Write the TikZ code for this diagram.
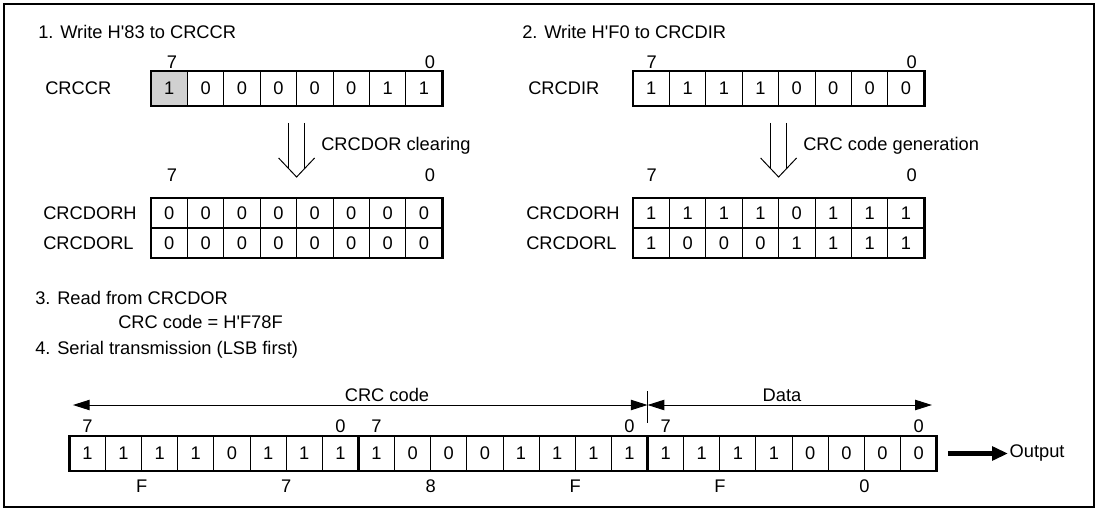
\documentclass[tikz,border=0pt]{standalone}
\usepackage{fontspec}
\setmainfont{Liberation Sans}
\usetikzlibrary{arrows.meta, positioning, calc, backgrounds}

\begin{document}
\begin{tikzpicture}[
    font=\fontsize{13}{15.6}\selectfont,
    bitcell/.style={draw, line width=0.7pt, minimum width=0.91cm, minimum height=0.875cm, inner sep=0pt, outer sep=0pt},
    rowcell/.style={bitcell, minimum height=0.75cm},
    sercell/.style={bitcell, minimum width=0.9035cm},
    regframe/.style={line width=1.9pt},
    hollow/.style={line width=0.7pt},
    dimarrow/.style={line width=0.7pt, {Triangle[length=0.42cm,width=0.26cm]}-{Triangle[length=0.42cm,width=0.26cm]}},
    outarrow/.style={line width=3pt, -{Triangle[length=0.4cm,width=0.34cm]}},
    lbl/.style={anchor=west, inner sep=0pt}
]
\useasboundingbox (0,0) rectangle (27.5,12.775);
% outer frame
\draw[line width=2pt] (0.1,0.1) rectangle (27.35,12.675);

% 1. write CRCCR
\node[lbl] (title1) at (0.95,11.975) {1. Write H\textquotesingle 83 to CRCCR};
\node[lbl] (ccrname) at (1.125,10.5625) {CRCCR};
\foreach \b [count=\i] in {1,0,0,0,0,0,1,1}
    \node[bitcell] (ccr\i) at ({3.775+(\i-0.5)*0.91},10.5625) {\b};
\begin{scope}[on background layer]
    \fill[black!18] (ccr1.south west) rectangle (ccr1.north east);
\end{scope}
\draw[regframe] (ccr1.south west) rectangle (ccr8.north east);
\node (ccrmsb) at (4.3,11.225) {7};
\node (ccrlsb) at (10.75,11.225) {0};

% CRCDOR cleared
\node[lbl] (dohname) at (1.075,7.45) {CRCDORH};
\node[lbl] (dolname) at (1.075,6.70) {CRCDORL};
\foreach \i in {1,...,8} {
    \node[rowcell] (doh\i) at ({3.775+(\i-0.5)*0.91},7.45) {0};
    \node[rowcell] (dol\i) at ({3.775+(\i-0.5)*0.91},6.70) {0};
}
\draw[regframe] (doh1.south west) rectangle (doh8.north east);
\draw[regframe] (dol1.south west) rectangle (dol8.north east);
\node (dohmsb) at (4.3,8.4) {7};
\node (dohlsb) at (10.75,8.4) {0};

% clearing arrow
\coordinate (clrtop) at ($(ccr4.south east)+(0,-0.42)$);
\coordinate (clrtip) at ($(doh4.north east)+(0,0.525)$);
\draw[hollow] ($(clrtop)+(-0.2,0)$) -- ($(clrtip)+(-0.2,0.211)$);
\draw[hollow] ($(clrtop)+(0.2,0)$) -- ($(clrtip)+(0.2,0.211)$);
\draw[hollow] ($(clrtip)+(-0.45,0.475)$) -- (clrtip) -- ($(clrtip)+(0.45,0.475)$);
\node[lbl] (clrtext) at (8.025,9.125) {CRCDOR clearing};

% 2. write CRCDIR
\node[lbl] (title2) at (13.05,11.975) {2. Write H\textquotesingle F0 to CRCDIR};
\node[lbl] (dirname) at (13.2,10.5625) {CRCDIR};
\foreach \b [count=\i] in {1,1,1,1,0,0,0,0}
    \node[bitcell] (dir\i) at ({15.825+(\i-0.5)*0.91},10.5625) {\b};
\draw[regframe] (dir1.south west) rectangle (dir8.north east);
\node (dirmsb) at (16.29,11.225) {7};
\node (dirlsb) at (22.79,11.225) {0};

% CRCDOR result
\node[lbl] (rdohname) at (13.15,7.45) {CRCDORH};
\node[lbl] (rdolname) at (13.15,6.70) {CRCDORL};
\foreach \b [count=\i] in {1,1,1,1,0,1,1,1}
    \node[rowcell] (rdoh\i) at ({15.825+(\i-0.5)*0.91},7.45) {\b};
\foreach \b [count=\i] in {1,0,0,0,1,1,1,1}
    \node[rowcell] (rdol\i) at ({15.825+(\i-0.5)*0.91},6.70) {\b};
\draw[regframe] (rdoh1.south west) rectangle (rdoh8.north east);
\draw[regframe] (rdol1.south west) rectangle (rdol8.north east);
\node (rdohmsb) at (16.29,8.4) {7};
\node (rdohlsb) at (22.79,8.4) {0};

% generation arrow
\coordinate (gentop) at ($(dir4.south east)+(0,-0.42)$);
\coordinate (gentip) at ($(rdoh4.north east)+(0,0.525)$);
\draw[hollow] ($(gentop)+(-0.2,0)$) -- ($(gentip)+(-0.2,0.211)$);
\draw[hollow] ($(gentop)+(0.2,0)$) -- ($(gentip)+(0.2,0.211)$);
\draw[hollow] ($(gentip)+(-0.45,0.475)$) -- (gentip) -- ($(gentip)+(0.45,0.475)$);
\node[lbl] (gentext) at (20.075,9.125) {CRC code generation};

% 3. read
\node[lbl] (title3) at (0.875,5.325) {3. Read from CRCDOR};
\node[lbl] (crcval) at (2.95,4.725) {CRC code = H\textquotesingle F78F};

% 4. serial transmission
\node[lbl] (title4) at (0.875,4.025) {4. Serial transmission (LSB first)};
\foreach \b [count=\i] in {1,1,1,1,0,1,1,1,1,0,0,0,1,1,1,1,1,1,1,1,0,0,0,0}
    \node[sercell] (ser\i) at ({1.733+(\i-0.5)*0.9035},1.4375) {\b};
\draw[regframe] (ser1.south west) rectangle (ser24.north east);
\draw[regframe] (ser8.south east) -- (ser8.north east);
\draw[regframe] (ser16.south east) -- (ser16.north east);
\foreach \n/\t in {1/7,8/0,9/7,16/0,17/7,24/0}
    \node (bitno\n) at ($(ser\n.north)+(0,0.24)$) {\t};
\foreach \n/\c in {2/F,6/7,10/8,14/F,18/F,22/0}
    \node (nib\n) at ($(ser\n.south east)+(0,-0.39)$) {\c};

% dimension arrows
\coordinate (crcstart) at ($(ser1.north west)+(0.09,0.775)$);
\coordinate (split) at ($(ser16.north east)+(0,0.775)$);
\coordinate (dataend) at ($(ser24.north east)+(-0.12,0.775)$);
\draw[dimarrow] (crcstart) -- (split);
\draw[dimarrow] (split) -- (dataend);
\draw[hollow] ($(split)+(0,0.35)$) -- ($(split)+(0,-0.45)$);
\node (crclbl) at (9.675,2.9) {CRC code};
\node (datalbl) at (19.55,2.9) {Data};

% output
\node[lbl, inner sep=1pt] (out) at (25.2,1.4375) {Output};
\draw[outarrow] ($(ser24.east)+(0.28,0)$) -- (out.west);
\end{tikzpicture}
\end{document}
